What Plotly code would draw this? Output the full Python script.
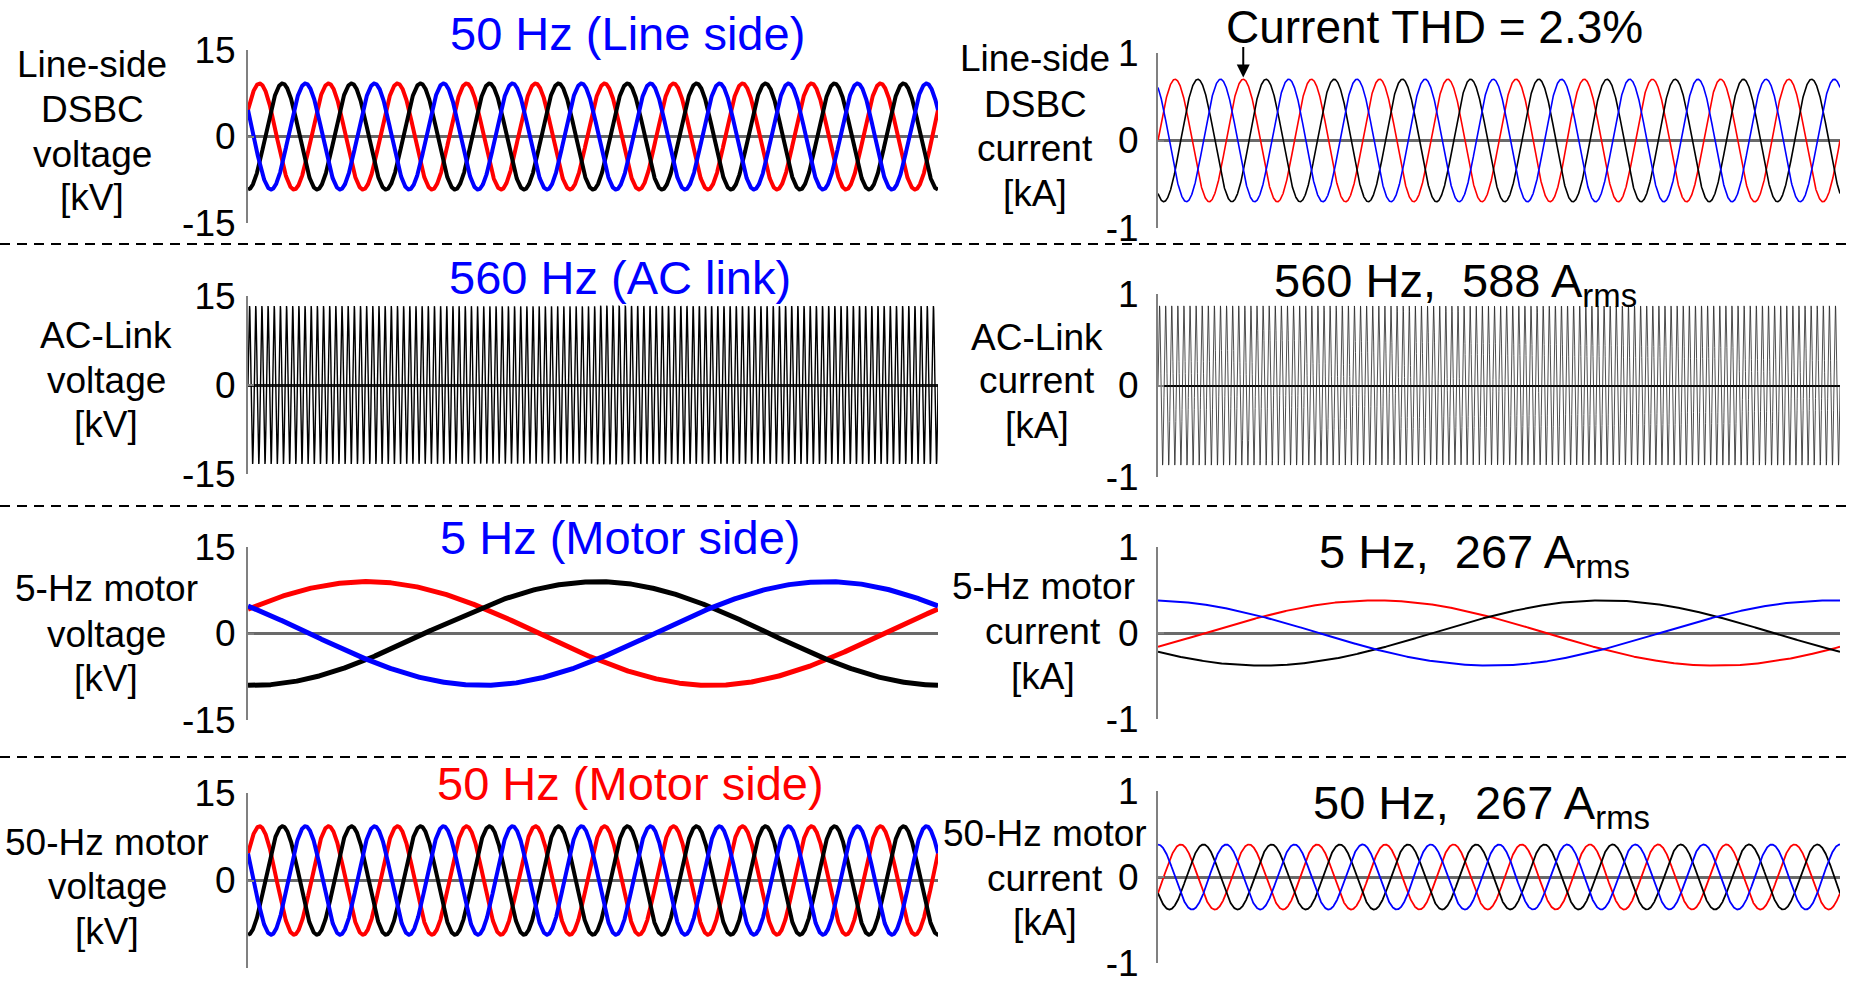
import numpy as np
import plotly.graph_objects as go

# ---------------- data ----------------
WINDOW_S = 0.2                      # time shown in every panel [s]
PHASE_COLORS = ["#ff0000", "#000000", "#0000ff"]   # phase a, b, c

# Line side (50 Hz)
LINE_V_AMP_KV = 9.2
LINE_V_FREQ_HZ = 50
LINE_V_PHASE_DEG = [30, -90, 150]
LINE_I_AMP_KA = 0.70
LINE_I_FREQ_HZ = 50
LINE_I_PHASE_DEG = [0, -120, 120]

# AC link (560 Hz)
LINK_V_AMP_KV = 13.3
LINK_I_AMP_KA = 0.87
LINK_FREQ_HZ = 560

# Motor side, 5 Hz
M5_V_AMP_KV = 9.0
M5_V_PHASE_DEG = [28, -92, 148]
M5_I_AMP_KA = 0.38
M5_I_PHASE_DEG = [-25, -145, 95]
M5_FREQ_HZ = 5

# Motor side, 50 Hz
M50_V_AMP_KV = 9.3
M50_V_PHASE_DEG = [30, -90, 150]
M50_I_AMP_KA = 0.378
M50_I_PHASE_DEG = [-30, -150, 90]
M50_FREQ_HZ = 50

V_TICKS = [-15, 0, 15]
V_TICK_TEXT = ["-15", "0", "15"]
I_TICKS = [-1, 0, 1]
I_TICK_TEXT = ["-1", "0", "1"]

# ---------------- layout geometry (pixels in a 1852x984 page) ----------------
W, H = 1852, 984
FONT = "Arial, Liberation Sans, sans-serif"
LEFT_X = (248, 938)
RIGHT_X = (1158, 1840)
PANEL_Y = {  # top px, bottom px
    1: (50, 223), 2: (53, 228),
    3: (296, 474), 4: (294, 477),
    5: (547, 720), 6: (547, 719),
    7: (793, 968), 8: (791, 963),
}


def px_x(p):
    return p / W


def px_y(p):
    return 1 - p / H


def wave(amp, freq, phase_deg, n):
    t = np.linspace(0, WINDOW_S, n)
    return t, amp * np.sin(2 * np.pi * freq * t + np.deg2rad(phase_deg))


fig = go.Figure()


def add_three_phase(idx, amp, freq, phases, width, n=3000):
    for ph, col in zip(phases, PHASE_COLORS):
        t, y = wave(amp, freq, ph, n)
        fig.add_trace(go.Scatter(x=t, y=y, mode="lines",
                                 line=dict(color=col, width=width),
                                 xaxis=f"x{idx}", yaxis=f"y{idx}",
                                 hoverinfo="skip", showlegend=False))


add_three_phase(1, LINE_V_AMP_KV, LINE_V_FREQ_HZ, LINE_V_PHASE_DEG, 4)
add_three_phase(2, LINE_I_AMP_KA, LINE_I_FREQ_HZ, LINE_I_PHASE_DEG, 1.6)

n_link = 112 * 40
t, y = wave(LINK_V_AMP_KV, LINK_FREQ_HZ, 0, n_link)
fig.add_trace(go.Scatter(x=t, y=y, mode="lines", line=dict(color="#000", width=1.4),
                         xaxis="x3", yaxis="y3", hoverinfo="skip", showlegend=False))
t, y = wave(LINK_I_AMP_KA, LINK_FREQ_HZ, 0, n_link)
fig.add_trace(go.Scatter(x=t, y=y, mode="lines", line=dict(color="#222", width=0.8),
                         xaxis="x4", yaxis="y4", hoverinfo="skip", showlegend=False))

add_three_phase(5, M5_V_AMP_KV, M5_FREQ_HZ, M5_V_PHASE_DEG, 5)
add_three_phase(6, M5_I_AMP_KA, M5_FREQ_HZ, M5_I_PHASE_DEG, 2)
add_three_phase(7, M50_V_AMP_KV, M50_FREQ_HZ, M50_V_PHASE_DEG, 4)
add_three_phase(8, M50_I_AMP_KA, M50_FREQ_HZ, M50_I_PHASE_DEG, 1.8)

layout = dict(width=W, height=H,
              margin=dict(l=0, r=0, t=0, b=0, pad=0, autoexpand=False),
              paper_bgcolor="white", plot_bgcolor="white", showlegend=False,
              font=dict(family=FONT, color="black"))

for i in range(1, 9):
    left = i % 2 == 1
    xd = LEFT_X if left else RIGHT_X
    top, bot = PANEL_Y[i]
    layout[f"xaxis{i}"] = dict(domain=[px_x(xd[0]), px_x(xd[1])], range=[0, WINDOW_S],
                               visible=False, anchor=f"y{i}")
    zl_color = "#6a6a6a"
    zl_width = 3
    if i == 3:
        zl_color, zl_width = "#222", 3
    if i == 4:
        zl_color, zl_width = "#000", 2
    layout[f"yaxis{i}"] = dict(
        domain=[px_y(bot), px_y(top)],
        range=[-15, 15] if left else [-1, 1],
        tickvals=V_TICKS if left else I_TICKS,
        ticktext=V_TICK_TEXT if left else I_TICK_TEXT,
        tickfont=dict(size=37, family=FONT, color="black"),
        showline=True, linecolor="#808080", linewidth=2,
        ticks="inside", ticklen=6, tickwidth=2, tickcolor="#808080",
        showgrid=False, zeroline=True, zerolinecolor=zl_color, zerolinewidth=zl_width,
        anchor=f"x{i}", ticklabelstandoff=3 if left else 10, fixedrange=True)

anns = []


def ann(text, x, y, size, color="black"):
    anns.append(dict(text=text, x=px_x(x), y=px_y(y), xref="paper", yref="paper",
                     xanchor="center", yanchor="middle", showarrow=False,
                     align="center", font=dict(size=size, color=color, family=FONT)))


def ytitle(lines, x, ys):
    for txt, yy in zip(lines, ys):
        ann(txt, x, yy, 37)


# y-axis titles (one annotation per line)
ytitle(["Line-side", "DSBC", "voltage", "[kV]"], 92, [65, 109, 154, 198])
ytitle(["AC-Link", "voltage", "[kV]"], 106, [335, 380, 424])
ytitle(["5-Hz motor", "voltage", "[kV]"], 106, [588, 634, 678])
ytitle(["50-Hz motor", "voltage", "[kV]"], 107, [842, 886, 931])
ytitle(["Line-side", "DSBC", "current", "[kA]"], 1035, [59, 104, 149, 193])
ytitle(["AC-Link", "current", "[kA]"], 1037, [337, 380, 425])
ytitle(["5-Hz motor", "current", "[kA]"], 1043, [586, 631, 676])
ytitle(["50-Hz motor", "current", "[kA]"], 1045, [833, 878, 922])

# panel titles
ann("50 Hz (Line side)", 627, 33, 47, "#0000ff")
ann("560 Hz (AC link)", 620, 278, 47, "#0000ff")
ann("5 Hz (Motor side)", 620, 537, 47, "#0000ff")
ann("50 Hz (Motor side)", 630, 783, 47, "#ff0000")
ann("Current THD = 2.3%", 1434, 27, 46)
ann("560 Hz,  588 A<sub>rms</sub>", 1455, 284, 47)
ann("5 Hz,  267 A<sub>rms</sub>", 1474, 555, 47)
ann("50 Hz,  267 A<sub>rms</sub>", 1481, 806, 47)

# arrow to the THD peak
anns.append(dict(text="", x=1.25 / LINE_I_FREQ_HZ, y=LINE_I_AMP_KA + 0.02, xref="x2", yref="y2",
                 showarrow=True, ax=0, ay=-32, arrowhead=2, arrowsize=1.3,
                 arrowwidth=2, arrowcolor="black"))
layout["annotations"] = anns

# dashed separators
shapes = []
for ypx in (244, 506, 757):
    shapes.append(dict(type="line", xref="paper", yref="paper", x0=0, x1=1,
                       y0=px_y(ypx), y1=px_y(ypx),
                       line=dict(color="black", width=2, dash="10px,7px")))
layout["shapes"] = shapes

fig.update_layout(**layout)
fig.write_html("out.html")
